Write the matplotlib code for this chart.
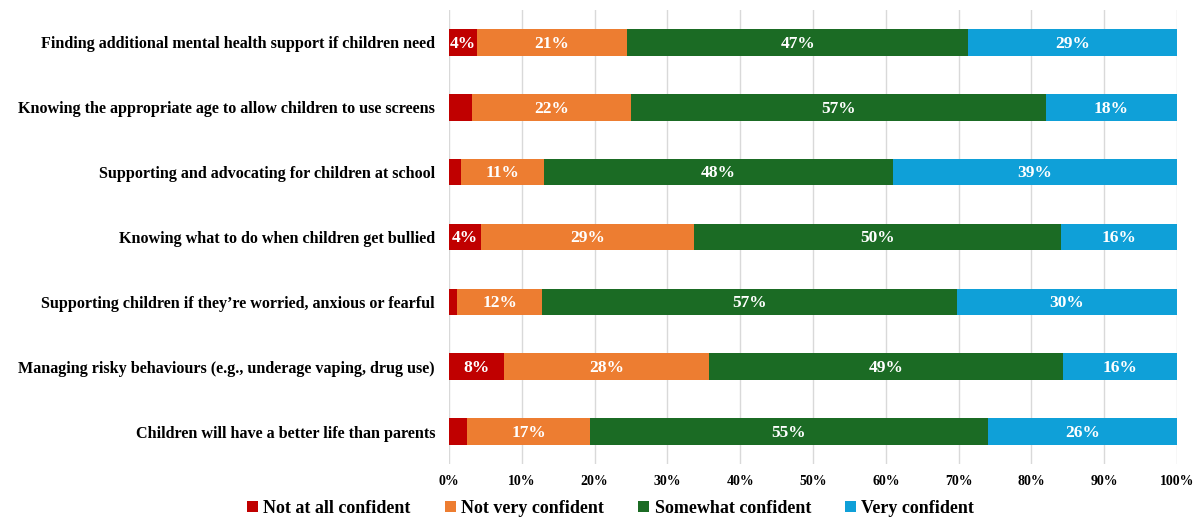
import numpy as np
import matplotlib.pyplot as plt
from matplotlib.ticker import PercentFormatter

plt.rcParams['font.family'] = ['Liberation Serif', 'DejaVu Serif']
plt.rcParams['font.weight'] = 'bold'

categories = [
    "Finding additional mental health support if children need",
    "Knowing the appropriate age to allow children to use screens",
    "Supporting and advocating for children at school",
    "Knowing what to do when children get bullied",
    "Supporting children if they\u2019re worried, anxious or fearful",
    "Managing risky behaviours (e.g., underage vaping, drug use)",
    "Children will have a better life than parents",
]
series_names = ["Not at all confident", "Not very confident", "Somewhat confident", "Very confident"]

not_at_all = [3.8, 3.2, 1.6, 4.4, 1.1, 7.6, 2.5]
not_very = [20.7, 21.8, 11.4, 29.3, 11.7, 28.1, 16.9]
somewhat = [46.8, 57.0, 48.0, 50.4, 57.0, 48.6, 54.6]
very = [28.7, 18.0, 39.0, 15.9, 30.2, 15.7, 26.0]

colors = ["#C00000", "#ED7D31", "#1B6B24", "#0FA0D8"]

fig, ax = plt.subplots(figsize=(12.02, 5.20), dpi=100)
fig.subplots_adjust(left=449/1202, right=1177/1202, top=1 - 10/520, bottom=1 - 464/520)

y = np.arange(len(categories))
left = np.zeros(len(categories))
for name, vals, col in zip(series_names, [not_at_all, not_very, somewhat, very], colors):
    vals = np.array(vals)
    ax.barh(y, vals, left=left, height=0.41, color=col, label=name, zorder=3)
    for yi, l, v in zip(y, left, vals):
        if v >= 3.5:
            ax.text(l + v / 2, yi + 0.02, f"{round(v):.0f}%", ha='center', va='center',
                    color='white', fontsize=12.5, fontweight='bold', zorder=4)
    left += vals

ax.set_xlim(0, 100)
ax.set_ylim(len(categories) - 0.5, -0.5)
ax.set_yticks(y)
ax.set_yticklabels(categories, fontsize=11.6, fontweight='bold')
ax.set_xticks(np.arange(0, 101, 10))
ax.xaxis.set_major_formatter(PercentFormatter(decimals=0))
ax.tick_params(axis='x', labelsize=10, length=0, pad=8)
ax.tick_params(axis='y', length=0, pad=10)
ax.grid(axis='x', color='#D9D9D9', linewidth=1, zorder=0)
for s in ax.spines.values():
    s.set_visible(False)

fig.legend(loc='lower center', ncol=4, bbox_to_anchor=(0.508, -0.025), frameon=False,
           handlelength=0.6, handleheight=0.6, handletextpad=0.3,
           columnspacing=1.9, prop={'weight': 'bold', 'size': 13})

fig.savefig("out.png", dpi=100)
